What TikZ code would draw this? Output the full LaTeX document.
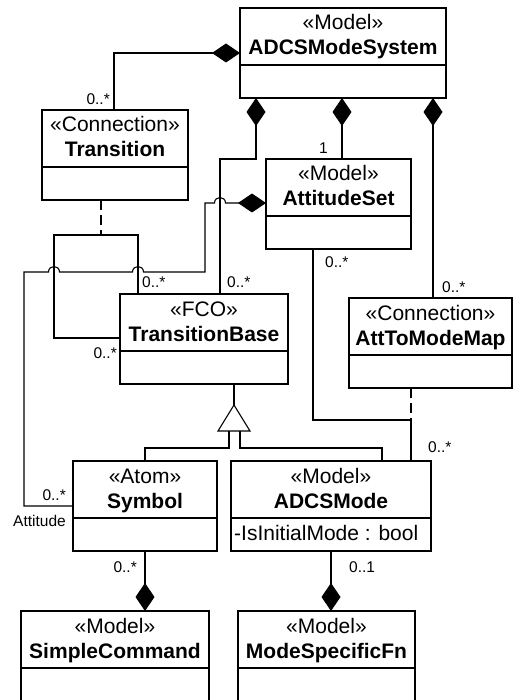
\documentclass[tikz,border=0pt]{standalone}
\usepackage{fontspec}
\setmainfont{Liberation Sans}
\usetikzlibrary{arrows.meta}
\tikzset{
  boxframe/.style={draw, line width=1.8pt, rectangle, inner sep=0pt, outer sep=0pt},
  stereo/.style={anchor=base, inner sep=0pt, font=\fontsize{21}{25}\selectfont},
  cname/.style={anchor=base, inner sep=0pt, font=\fontsize{21}{25}\selectfont\bfseries},
  attrtext/.style={anchor=base west, inner sep=0pt, font=\fontsize{21}{25}\selectfont},
  mult/.style={inner sep=0pt, font=\fontsize{15.5}{18}\selectfont},
  conn/.style={line width=1.1pt},
  dashline/.style={conn, dash pattern=on 10pt off 5pt},
  comp/.style={conn, {Diamond[length=28pt,width=19pt,fill=black]}-},
  compend/.style={conn, -{Diamond[length=28pt,width=19pt,fill=black]}},
}
\newcommand\umlclass[7]{%
  \node[boxframe, minimum width={(#4)-(#2)}, minimum height={(#5)-(#3)}] (#1) at ({((#2)+(#4))/2},{((#3)+(#5))/2}) {};
  \draw[line width=1.8pt] (#2,#3+57) -- (#4,#3+57);
  \node[stereo] (#1-st) at ({((#2)+(#4))/2},#3+22) {«#6»};
  \node[cname] (#1-nm) at ({((#2)+(#4))/2},#3+47) {#7};
}
\begin{document}
\begin{tikzpicture}[x=1pt,y=-1pt]
\clip (0,0) rectangle (513,700);
\fill[white] (0,0) rectangle (513,700);
% classes
\umlclass{ams}{240}{8}{446}{98}{Model}{ADCSModeSystem}
\umlclass{trans}{42}{110}{188}{200}{Connection}{Transition}
\umlclass{atts}{266}{159}{411}{249}{Model}{AttitudeSet}
\umlclass{tb}{120}{294}{288}{384}{FCO}{TransitionBase}
\umlclass{a2m}{349}{298}{512}{388}{Connection}{AttToModeMap}
\umlclass{sym}{73}{461}{217}{551}{Atom}{Symbol}
\umlclass{mode}{231}{461}{431}{551}{Model}{ADCSMode}
\node[attrtext] (mode-at) at (234,540) {-IsInitialMode : bool};
\umlclass{sc}{21}{611}{209}{706}{Model}{SimpleCommand}
\umlclass{msf}{238}{611}{415}{706}{Model}{ModeSpecificFn}
% compositions from ADCSModeSystem
\draw[comp] (ams.west |- 0,53) -- (114,53) -- (trans.north -| 114,0);
\draw[comp] (ams.south -| 342,0) -- (atts.north -| 342,0);
\draw[comp] (ams.south -| 256,0) -- (256,159) -- (220,159) -- (tb.north -| 220,0);
\draw[comp] (ams.south -| 433,0) -- (a2m.north -| 433,0);
% Attitude association
\draw[comp] (atts.west |- 0,203) -- (225.5,203)
  .. controls (225.5,195.7) and (214.5,195.7) .. (214.5,203) -- (205,203) -- (205,272)
  -- (143.5,272) .. controls (143.5,264.7) and (132.5,264.7) .. (132.5,272)
  -- (59.5,272) .. controls (59.5,264.7) and (48.5,264.7) .. (48.5,272)
  -- (24,272) -- (24,506) -- (sym.west |- 0,506);
% Transition connection bracket
\coordinate (brk) at (101,235);
\draw[dashline] (trans.south -| 101,0) -- (brk);
\draw[conn] (tb.west |- 0,338) -- (54,338) -- (54,235) -- (138,235) -- (tb.north -| 138,0);
% AttitudeSet to ADCSMode with AttToModeMap
\coordinate (amj) at (411,420);
\draw[conn] (atts.south -| 313,0) -- (313,420) -- (amj) -- (mode.north -| 411,0);
\draw[dashline] (a2m.south -| 411,0) -- (amj);
% generalization
\coordinate (apex) at (234,405);
\draw[conn] (tb.south -| 234,0) -- (apex);
\draw[conn, fill=white] (apex) -- (250,431) -- (218,431) -- cycle;
\draw[conn] (229,431) -- (229,448) -- (145,448) -- (sym.north -| 145,0);
\draw[conn] (240,431) -- (240,448) -- (382,448) -- (mode.north -| 382,0);
% bottom compositions
\draw[compend] (sym.south -| 145,0) -- (sc.north -| 145,0);
\draw[compend] (mode.south -| 331,0) -- (msf.north -| 331,0);
% multiplicities
\node[mult, anchor=base east] (m1) at (110,105) {0..*};
\node[mult, anchor=base east] (m2) at (328,154) {1};
\node[mult, anchor=base west] (m3) at (227,287) {0..*};
\node[mult, anchor=base west] (m4) at (142,287) {0..*};
\node[mult, anchor=base east] (m5) at (117,358) {0..*};
\node[mult, anchor=base east] (m6) at (66,500) {0..*};
\node[mult, anchor=base east] (m7) at (66,526) {Attitude};
\node[mult, anchor=base west] (m8) at (325,267) {0..*};
\node[mult, anchor=base west] (m9) at (442,292) {0..*};
\node[mult, anchor=base west] (m10) at (428,452) {0..*};
\node[mult, anchor=base east] (m11) at (137,572) {0..*};
\node[mult, anchor=base west] (m12) at (349,572) {0..1};
\end{tikzpicture}
\end{document}
